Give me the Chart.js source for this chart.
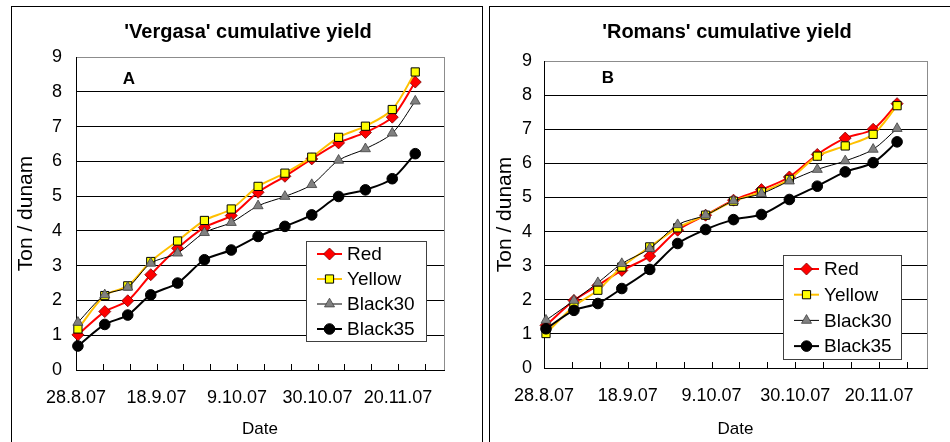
<!DOCTYPE html>
<html>
<head>
<meta charset="utf-8">
<script src="https://cdn.jsdelivr.net/npm/chart.js@4.4.1/dist/chart.umd.min.js"></script>
<style>
  body { margin: 0; background: #fff; width: 950px; height: 442px; overflow: hidden; position: relative; }
  .frame { position: absolute; top: 6px; height: 470px; border: 1px solid #000; box-sizing: border-box; }
  #frameA { left: 11px; width: 472px; }
  #frameB { left: 489px; width: 480px; }
  canvas { position: absolute; top: 0; }
</style>
</head>
<body>
<div class="frame" id="frameA"></div>
<div class="frame" id="frameB"></div>
<canvas id="chartA" width="482" height="442" style="left:0"></canvas>
<canvas id="chartB" width="468" height="442" style="left:482px"></canvas>
<script>
const FONT = '"Liberation Sans", Arial, sans-serif';

// harvest dates, as days after 28.8.07
const harvestDays = [0, 7, 13, 19, 26, 33, 40, 47, 54, 61, 68, 75, 82, 88];
// one label every 21 days, starting 28.8.07
const dateLabels = ["28.8.07", "18.9.07", "9.10.07", "30.10.07", "20.11.07"];
const seriesNames = ["Red", "Yellow", "Black30", "Black35"];

const vergasaRed     = [1.01, 1.68, 1.99, 2.74, 3.50, 4.10, 4.44, 5.11, 5.57, 6.07, 6.53, 6.83, 7.27, 8.28];
const vergasaYellow  = [1.18, 2.14, 2.42, 3.12, 3.71, 4.30, 4.63, 5.28, 5.66, 6.12, 6.69, 7.01, 7.49, 8.57];
const vergasaBlack30 = [1.37, 2.16, 2.38, 3.07, 3.36, 3.95, 4.24, 4.72, 4.99, 5.33, 6.03, 6.36, 6.81, 7.73];
const vergasaBlack35 = [0.69, 1.31, 1.58, 2.16, 2.50, 3.17, 3.45, 3.84, 4.13, 4.46, 4.99, 5.18, 5.50, 6.22];

const romansRed     = [1.25, 1.98, 2.42, 2.86, 3.28, 4.04, 4.48, 4.92, 5.23, 5.60, 6.26, 6.74, 7.00, 7.75];
const romansYellow  = [1.01, 1.81, 2.28, 2.96, 3.55, 4.11, 4.48, 4.89, 5.16, 5.53, 6.21, 6.51, 6.85, 7.69];
const romansBlack30 = [1.40, 1.98, 2.50, 3.06, 3.50, 4.20, 4.48, 4.90, 5.11, 5.48, 5.82, 6.07, 6.41, 7.02];
const romansBlack35 = [1.15, 1.69, 1.89, 2.33, 2.89, 3.65, 4.06, 4.35, 4.50, 4.94, 5.33, 5.75, 6.02, 6.63];

const styles = [
  { line: '#ff0000', width: 2, marker: 'rectRot', r: 6, fill: '#ff0000', edge: '#7a0000', edgeW: 0.8, order: 4 },
  { line: '#ffc000', width: 2, marker: 'rect', r: 5.8, fill: '#ffff00', edge: '#000000', edgeW: 1, order: 3 },
  { line: '#000000', width: 1, marker: 'triangle', r: 5.8, fill: '#808080', edge: '#404040', edgeW: 0.8, order: 2 },
  { line: '#000000', width: 2, marker: 'circle', r: 5.3, fill: '#000000', edge: '#000000', edgeW: 1, order: 1 }
];

function series(vals) {
  // points sit in the middle of their day, like the Excel date axis
  return vals.map((v, i) => ({ x: harvestDays[i] + 0.5, y: v }));
}

function marker(ctx, type, x, y, r) {
  ctx.beginPath();
  if (type === 'circle') {
    ctx.arc(x, y, r, 0, Math.PI * 2);
  } else if (type === 'rect') {
    const s = r * Math.SQRT1_2;
    ctx.rect(x - s, y - s, 2 * s, 2 * s);
  } else if (type === 'rectRot') {
    ctx.moveTo(x, y - r); ctx.lineTo(x + r, y); ctx.lineTo(x, y + r); ctx.lineTo(x - r, y);
  } else if (type === 'triangle') {
    ctx.moveTo(x, y - r);
    ctx.lineTo(x + Math.sin(2.0944) * r, y - Math.cos(2.0944) * r);
    ctx.lineTo(x + Math.sin(4.1888) * r, y - Math.cos(4.1888) * r);
  }
  ctx.closePath();
}

const excelLook = {
  id: 'excelLook',
  afterDraw(chart, args, o) {
    const ctx = chart.ctx;
    const a = chart.chartArea;
    const xs = chart.scales.x;
    ctx.save();

    // grey right edge of the plot
    ctx.strokeStyle = '#8c8c8c';
    ctx.lineWidth = 1;
    ctx.beginPath();
    ctx.moveTo(a.right + 0.5, a.top);
    ctx.lineTo(a.right + 0.5, a.bottom);
    ctx.stroke();

    // weekly tick marks, inside the plot
    ctx.strokeStyle = '#000';
    ctx.beginPath();
    xs.ticks.forEach(t => {
      if (t.value % 7 !== 0) return;
      const px = Math.round(xs.getPixelForValue(t.value)) + 0.5;
      ctx.moveTo(px, a.bottom);
      ctx.lineTo(px, a.bottom - 6);
    });
    ctx.stroke();

    // title and panel letter
    ctx.fillStyle = '#000';
    ctx.textAlign = 'center';
    ctx.textBaseline = 'middle';
    ctx.font = 'bold 20px ' + FONT;
    ctx.fillText(o.title, o.titleX, 32);
    ctx.font = 'bold 17px ' + FONT;
    ctx.fillText(o.letter, o.letterX, o.letterY);

    // legend box
    const L = o.legend;
    ctx.fillStyle = '#fff';
    ctx.fillRect(L.x, L.y, L.w, L.h);
    ctx.strokeStyle = '#404040';
    ctx.lineWidth = 1;
    ctx.strokeRect(L.x + 0.5, L.y + 0.5, L.w, L.h);
    ctx.font = '19px ' + FONT;
    ctx.textAlign = 'left';
    chart.data.datasets.forEach((ds, i) => {
      const st = styles[i];
      const y = L.y + L.first + i * L.step;
      const x0 = L.x + 11, x1 = L.x + 36;
      ctx.strokeStyle = st.line;
      ctx.lineWidth = st.width;
      ctx.beginPath();
      ctx.moveTo(x0, y);
      ctx.lineTo(x1, y);
      ctx.stroke();
      marker(ctx, st.marker, (x0 + x1) / 2, y, st.r);
      ctx.fillStyle = st.fill;
      ctx.fill();
      ctx.strokeStyle = st.edge;
      ctx.lineWidth = st.edgeW;
      ctx.stroke();
      ctx.fillStyle = '#000';
      ctx.fillText(ds.label, L.x + 41, y + 1);
    });
    ctx.restore();
  }
};

function makeChart(id, data, opt) {
  return new Chart(document.getElementById(id), {
    type: 'line',
    data: {
      datasets: data.map((vals, i) => ({
        label: seriesNames[i],
        data: series(vals),
        borderColor: styles[i].line,
        borderWidth: styles[i].width,
        tension: 0.3,
        pointStyle: styles[i].marker,
        pointRadius: styles[i].r,
        pointBackgroundColor: styles[i].fill,
        pointBorderColor: styles[i].edge,
        pointBorderWidth: styles[i].edgeW,
        order: styles[i].order,
        clip: false
      }))
    },
    options: {
      responsive: false,
      animation: false,
      events: [],
      layout: { padding: { left: 0, right: opt.padRight, top: opt.padTop, bottom: 0 } },
      scales: {
        x: {
          type: 'linear',
          min: 0,
          max: 96,
          ticks: {
            stepSize: 7,
            autoSkip: false,
            maxRotation: 0,
            includeBounds: false,
            padding: 17,
            color: '#000',
            font: { family: FONT, size: 18 },
            callback: v => (v % 21 === 0 ? dateLabels[v / 21] : '')
          },
          grid: { display: false, drawTicks: false },
          border: { display: true, color: '#000', width: 1 },
          title: { display: true, text: 'Date', color: '#000', font: { family: FONT, size: 17 }, padding: { top: 0, bottom: 2 } },
          afterFit: s => { s.height = opt.xHeight; }
        },
        y: {
          min: 0,
          max: 9,
          ticks: { stepSize: 1, padding: opt.yPad, color: '#000', font: { family: FONT, size: 18 } },
          grid: {
            drawTicks: false,
            lineWidth: 1,
            color: c => (c.tick && c.tick.value === 9 ? '#8c8c8c' : '#000')
          },
          border: { display: true, color: '#000', width: 1 },
          title: { display: true, text: 'Ton / dunam', color: '#000', font: { family: FONT, size: 21 }, padding: { top: opt.yTitlePad, bottom: 0 } },
          afterFit: s => { s.width = opt.yWidth; }
        }
      },
      plugins: {
        legend: { display: false },
        tooltip: { enabled: false },
        excelLook: opt.look
      }
    },
    plugins: [excelLook]
  });
}

makeChart('chartA', [vergasaRed, vergasaYellow, vergasaBlack30, vergasaBlack35], {
  padRight: 38, padTop: 57, xHeight: 72, yWidth: 76, yPad: 14, yTitlePad: 14,
  look: {
    title: "'Vergasa' cumulative yield", titleX: 248,
    letter: 'A', letterX: 129, letterY: 79,
    legend: { x: 306, y: 241, w: 120, h: 100, first: 13, step: 25 }
  }
});

makeChart('chartB', [romansRed, romansYellow, romansBlack30, romansBlack35], {
  padRight: 23, padTop: 61, xHeight: 74, yWidth: 62, yPad: 12, yTitlePad: 11,
  look: {
    title: "'Romans' cumulative yield", titleX: 245,
    letter: 'B', letterX: 126, letterY: 78,
    legend: { x: 301, y: 255, w: 118, h: 104, first: 14, step: 25.7 }
  }
});
</script>
</body>
</html>
